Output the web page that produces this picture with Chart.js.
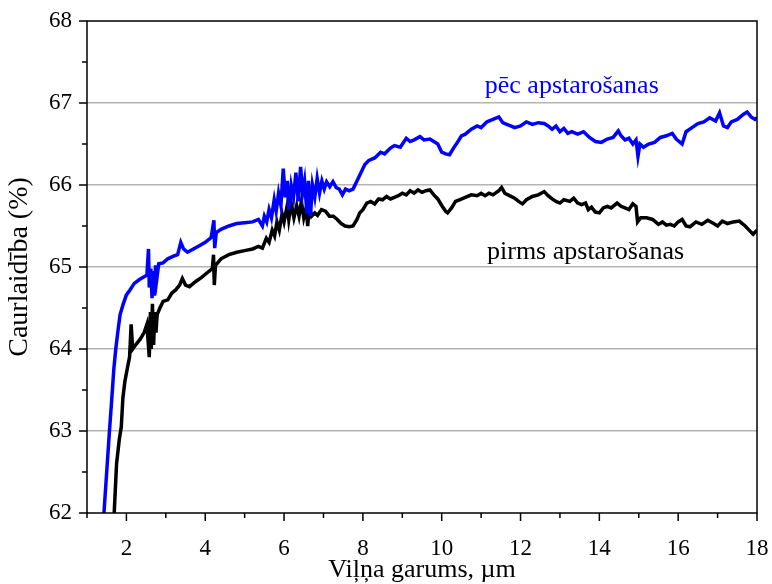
<!DOCTYPE html>
<html>
<head>
<meta charset="utf-8">
<script src="https://cdn.jsdelivr.net/npm/chart.js@4.4.1/dist/chart.umd.min.js"></script>
<style>
  body { margin: 0; background: #fff; }
  #chart { display: block; }
</style>
</head>
<body>
<canvas id="chart" width="772" height="584"></canvas>
<script>
// wavelength (µm) and transmittance (%) after irradiation
const xAfter = [1.36, 1.43, 1.50, 1.57, 1.63, 1.68, 1.73, 1.78, 1.84, 1.92, 2.00, 2.09, 2.20, 2.34, 2.45, 2.52,
  2.56, 2.58, 2.62, 2.65, 2.68, 2.71, 2.74, 2.77, 2.82, 2.93, 3.05, 3.18, 3.30, 3.38, 3.45, 3.55, 3.70, 3.85,
  4.00, 4.15, 4.22, 4.24, 4.28, 4.40, 4.60, 4.80, 5.00, 5.20, 5.35, 5.45, 5.50, 5.56, 5.62, 5.68, 5.75, 5.80,
  5.86, 5.92, 5.98, 6.03, 6.08, 6.12, 6.18, 6.24, 6.30, 6.36, 6.42, 6.47, 6.52, 6.58, 6.62, 6.67, 6.72, 6.78,
  6.84, 6.90, 6.96, 7.02, 7.08, 7.16, 7.24, 7.32, 7.40, 7.48, 7.56, 7.65, 7.75, 7.85, 7.95, 8.05, 8.15, 8.30,
  8.45, 8.55, 8.70, 8.80, 8.95, 9.10, 9.20, 9.30, 9.45, 9.55, 9.70, 9.80, 9.90, 10.00, 10.10, 10.20, 10.30,
  10.40, 10.50, 10.60, 10.75, 10.90, 11.00, 11.15, 11.30, 11.45, 11.55, 11.65, 11.75, 11.85, 12.00, 12.15,
  12.30, 12.45, 12.60, 12.70, 12.80, 12.90, 13.00, 13.10, 13.20, 13.30, 13.45, 13.60, 13.75, 13.90, 14.05,
  14.20, 14.35, 14.48, 14.55, 14.65, 14.75, 14.85, 14.93, 14.98, 15.03, 15.12, 15.25, 15.40, 15.55, 15.70,
  15.85, 15.95, 16.10, 16.20, 16.35, 16.50, 16.65, 16.80, 16.95, 17.05, 17.15, 17.25, 17.35, 17.50, 17.65,
  17.75, 17.85, 17.95, 18.00];
const yAfter = [61.8, 62.0, 62.5, 63.0, 63.4, 63.75, 64.0, 64.2, 64.42, 64.55, 64.66, 64.72, 64.8, 64.85, 64.88, 64.9,
  65.22, 64.75, 64.98, 64.62, 64.95, 64.65, 65.02, 64.85, 65.04, 65.05, 65.1, 65.13, 65.15, 65.3, 65.22, 65.18, 65.22, 65.26,
  65.3, 65.36, 65.57, 65.23, 65.42, 65.46, 65.5, 65.53, 65.54, 65.55, 65.58, 65.5, 65.62, 65.55, 65.7, 65.6, 65.82, 65.68,
  65.9, 65.75, 66.2, 65.85, 66.05, 65.7, 66.0, 65.85, 66.15, 65.8, 66.22, 65.9, 66.05, 65.65, 66.05, 65.62, 66.0, 65.85,
  66.08, 65.9, 66.05, 65.95, 66.04, 65.98, 66.04, 65.97, 65.95, 65.88, 65.95, 65.93, 65.95, 66.05, 66.15, 66.25, 66.3, 66.33,
  66.4, 66.38, 66.45, 66.48, 66.46, 66.57, 66.53, 66.55, 66.59, 66.55, 66.56, 66.53, 66.5, 66.4, 66.38, 66.37, 66.45,
  66.52, 66.6, 66.62, 66.68, 66.72, 66.7, 66.77, 66.8, 66.83, 66.76, 66.74, 66.72, 66.7, 66.72, 66.77,
  66.74, 66.76, 66.75, 66.72, 66.68, 66.72, 66.65, 66.69, 66.63, 66.65, 66.62, 66.65, 66.58, 66.53, 66.52,
  66.56, 66.58, 66.66, 66.6, 66.55, 66.57, 66.5, 66.55, 66.35, 66.5, 66.46, 66.5, 66.52, 66.58, 66.6,
  66.63, 66.56, 66.5, 66.65, 66.7, 66.75, 66.77, 66.82, 66.78, 66.88, 66.72, 66.7, 66.77, 66.8, 66.86,
  66.89, 66.83, 66.8, 66.82];

// before irradiation
const xBefore = [1.64, 1.69, 1.75, 1.82, 1.87, 1.91, 1.96, 2.03, 2.08, 2.12, 2.16, 2.25, 2.35, 2.45, 2.52, 2.58,
  2.61, 2.63, 2.66, 2.69, 2.72, 2.75, 2.78, 2.85, 2.93, 3.05, 3.15, 3.25, 3.35, 3.42, 3.50, 3.60, 3.75, 3.90,
  4.05, 4.18, 4.21, 4.23, 4.26, 4.40, 4.60, 4.80, 5.00, 5.20, 5.35, 5.45, 5.55, 5.62, 5.70, 5.76, 5.82, 5.88,
  5.95, 6.00, 6.08, 6.12, 6.18, 6.25, 6.32, 6.38, 6.44, 6.50, 6.56, 6.60, 6.64, 6.70, 6.78, 6.85, 6.95, 7.05,
  7.15, 7.25, 7.35, 7.45, 7.55, 7.65, 7.75, 7.85, 7.92, 8.00, 8.10, 8.20, 8.30, 8.40, 8.50, 8.60, 8.70, 8.80,
  8.90, 9.00, 9.10, 9.20, 9.30, 9.40, 9.50, 9.60, 9.70, 9.80, 9.90, 10.00, 10.10, 10.15, 10.25, 10.35, 10.45,
  10.60, 10.75, 10.90, 11.00, 11.10, 11.20, 11.30, 11.45, 11.52, 11.60, 11.72, 11.85, 11.95, 12.05, 12.15,
  12.30, 12.45, 12.60, 12.70, 12.80, 12.90, 13.00, 13.10, 13.25, 13.35, 13.45, 13.55, 13.65, 13.72, 13.80,
  13.90, 14.00, 14.10, 14.20, 14.30, 14.45, 14.55, 14.65, 14.75, 14.85, 14.93, 14.97, 15.05, 15.20, 15.35,
  15.50, 15.60, 15.70, 15.80, 15.90, 16.00, 16.10, 16.20, 16.30, 16.45, 16.60, 16.75, 16.90, 17.00, 17.12,
  17.25, 17.40, 17.55, 17.70, 17.80, 17.90, 18.00];
const yBefore = [61.8, 62.0, 62.6, 62.9, 63.05, 63.4, 63.6, 63.78, 63.9, 64.3, 64.0, 64.06, 64.12, 64.2, 64.3, 63.9,
  64.45, 64.0, 64.55, 64.05, 64.45, 64.2, 64.42, 64.5, 64.58, 64.6, 64.68, 64.72, 64.78, 64.86, 64.78, 64.76, 64.82, 64.87,
  64.93, 64.98, 65.15, 64.78, 65.02, 65.1, 65.15, 65.18, 65.2, 65.22, 65.25, 65.23, 65.35, 65.3, 65.45, 65.38, 65.55, 65.45,
  65.65, 65.55, 65.75, 65.58, 65.78, 65.6, 65.75, 65.62, 65.8, 65.6, 65.72, 65.5, 65.75, 65.62, 65.66, 65.63, 65.7, 65.68,
  65.62, 65.62, 65.58, 65.53, 65.5, 65.49, 65.5, 65.58, 65.66, 65.7, 65.78, 65.8, 65.77, 65.83, 65.82, 65.86, 65.83, 65.85,
  65.87, 65.9, 65.88, 65.93, 65.9, 65.94, 65.91, 65.93, 65.94, 65.88, 65.83, 65.75, 65.68, 65.66, 65.72, 65.8, 65.82,
  65.85, 65.88, 65.87, 65.9, 65.87, 65.9, 65.88, 65.93, 65.97, 65.9, 65.87, 65.84, 65.8, 65.77, 65.82,
  65.86, 65.88, 65.92, 65.87, 65.83, 65.8, 65.78, 65.82, 65.8, 65.84, 65.78, 65.76, 65.78, 65.7, 65.73,
  65.67, 65.66, 65.72, 65.74, 65.72, 65.78, 65.74, 65.72, 65.7, 65.77, 65.74, 65.55, 65.6, 65.6, 65.58,
  65.52, 65.55, 65.51, 65.52, 65.5, 65.55, 65.58, 65.5, 65.49, 65.55, 65.52, 65.57, 65.53, 65.5, 65.56,
  65.53, 65.55, 65.56, 65.5, 65.45, 65.4, 65.45];

const xTickLabels = [2, 4, 6, 8, 10, 12, 14, 16, 18];
const yTickLabels = [62, 63, 64, 65, 66, 67, 68];

const FONT = "'Liberation Serif', 'Times New Roman', serif";

// Frame, outward major/minor ticks and in-plot labels
const framePlugin = {
    id: 'frame',
    afterDatasetsDraw(chart) {
        const { ctx, chartArea: a, scales } = chart;
        ctx.save();
        ctx.strokeStyle = '#000';
        ctx.lineWidth = 1.5;
        ctx.strokeRect(a.left, a.top, a.right - a.left, a.bottom - a.top);

        ctx.beginPath();
        for (let v = 1; v <= 18; v++) {
            const px = scales.x.getPixelForValue(v);
            const len = xTickLabels.includes(v) ? 8 : 5;
            ctx.moveTo(px, a.bottom);
            ctx.lineTo(px, a.bottom + len);
        }
        for (let v = 62; v <= 68; v += 0.5) {
            const py = scales.y.getPixelForValue(v);
            const len = Number.isInteger(v) ? 8 : 5;
            ctx.moveTo(a.left, py);
            ctx.lineTo(a.left - len, py);
        }
        ctx.stroke();

        ctx.font = `26px ${FONT}`;
        ctx.textAlign = 'center';
        ctx.textBaseline = 'middle';
        ctx.fillStyle = '#0000ff';
        ctx.fillText('pēc apstarošanas', scales.x.getPixelForValue(13.3), scales.y.getPixelForValue(67.2));
        ctx.fillStyle = '#000';
        ctx.fillText('pirms apstarošanas', scales.x.getPixelForValue(13.65), scales.y.getPixelForValue(65.18));
        ctx.restore();
    }
};

new Chart(document.getElementById('chart'), {
    type: 'line',
    data: {
        datasets: [
            {
                label: 'pēc apstarošanas',
                data: xAfter.map((x, i) => ({ x, y: yAfter[i] })),
                borderColor: '#0000ff',
                borderWidth: 3.5,
                pointRadius: 0,
                tension: 0
            },
            {
                label: 'pirms apstarošanas',
                data: xBefore.map((x, i) => ({ x, y: yBefore[i] })),
                borderColor: '#000000',
                borderWidth: 3.5,
                pointRadius: 0,
                tension: 0
            }
        ]
    },
    options: {
        responsive: false,
        animation: false,
        layout: { padding: { top: 21, right: 15, left: 0, bottom: 0 } },
        plugins: {
            legend: { display: false },
            tooltip: { enabled: false }
        },
        scales: {
            x: {
                type: 'linear',
                min: 1,
                max: 18,
                afterFit: s => { s.height = 71; s.paddingLeft = 0; s.paddingRight = 0; },
                border: { display: false },
                grid: { display: false },
                ticks: {
                    stepSize: 1,
                    autoSkip: false,
                    maxRotation: 0,
                    padding: 14,
                    color: '#000',
                    font: { family: FONT, size: 23 },
                    callback: v => xTickLabels.includes(v) ? String(v) : ''
                },
                title: {
                    display: true,
                    text: 'Viļņa garums, µm',
                    color: '#000',
                    font: { family: FONT, size: 26 },
                    padding: { top: 0, bottom: -2 }
                }
            },
            y: {
                min: 62,
                max: 68,
                afterFit: s => { s.width = 87; s.paddingTop = 0; s.paddingBottom = 0; },
                border: { display: false },
                grid: {
                    drawTicks: false,
                    lineWidth: 1.5,
                    color: c => (Number.isInteger(c.tick.value) && c.tick.value > 62 && c.tick.value < 68) ? '#b4b4b4' : 'rgba(0,0,0,0)'
                },
                ticks: {
                    stepSize: 0.5,
                    autoSkip: false,
                    padding: 15,
                    color: '#000',
                    font: { family: FONT, size: 23 },
                    callback: v => yTickLabels.includes(v) ? String(v) : ''
                },
                title: {
                    display: true,
                    text: 'Caurlaidība (%)',
                    color: '#000',
                    font: { family: FONT, size: 28 },
                    padding: { top: 3, bottom: 0 }
                }
            }
        }
    },
    plugins: [framePlugin]
});
</script>
</body>
</html>
